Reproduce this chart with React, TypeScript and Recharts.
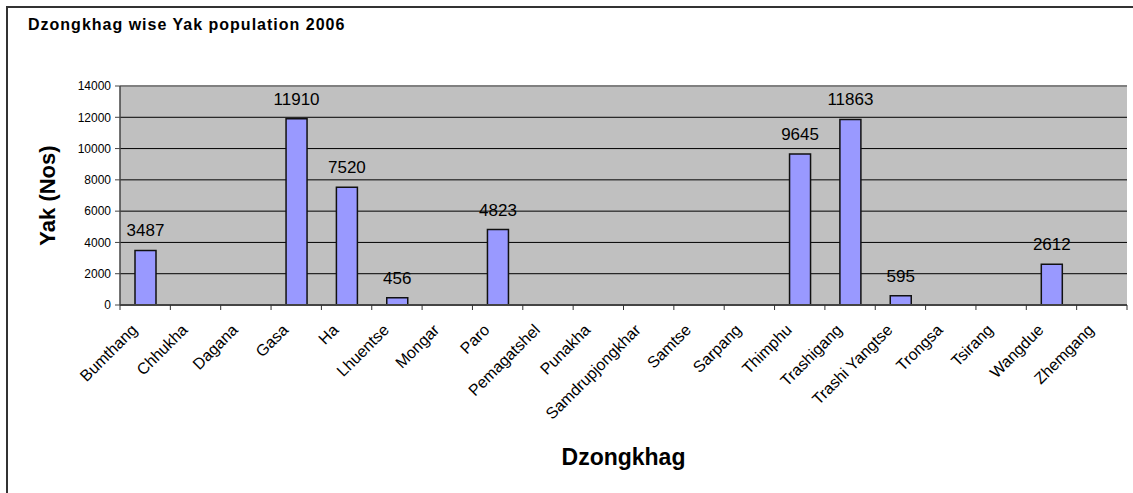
import React from "react";
import { BarChart, Bar, XAxis, YAxis, CartesianGrid, ReferenceLine, LabelList } from "recharts";

// Dzongkhag wise Yak population 2006 — column chart, Excel style

const dzongkhags = [
  "Bumthang", "Chhukha", "Dagana", "Gasa", "Ha", "Lhuentse", "Mongar", "Paro",
  "Pemagatshel", "Punakha", "Samdrupjongkhar", "Samtse", "Sarpang", "Thimphu",
  "Trashigang", "Trashi Yangtse", "Trongsa", "Tsirang", "Wangdue", "Zhemgang",
];

const yakCounts: (number | null)[] = [
  3487, null, null, 11910, 7520, 456, null, 4823,
  null, null, null, null, null, 9645,
  11863, 595, 0, null, 2612, null,
];

const yTicks = [0, 2000, 4000, 6000, 8000, 10000, 12000, 14000];

const data = dzongkhags.map((name, i) => ({ name, yaks: yakCounts[i] }));

const FONT = "'Liberation Sans', Arial, sans-serif";
const WIDTH = 1133;
const HEIGHT = 493;
const MARGIN = { top: 86, right: 6, bottom: 0, left: 0 };
const Y_AXIS_W = 120;
const X_AXIS_H = 188;
const BAND = (WIDTH - MARGIN.left - MARGIN.right - Y_AXIS_W) / dzongkhags.length;

function XTick(props: any) {
  const { x, y, payload, index } = props;
  const left = x - BAND / 2;
  const tx = x - 7;
  const ty = y + 26;
  return (
    <g>
      <line x1={left} x2={left} y1={y} y2={y + 5} stroke="#333" />
      {index === dzongkhags.length - 1 && (
        <line x1={left + BAND} x2={left + BAND} y1={y} y2={y + 5} stroke="#333" />
      )}
      <text
        x={tx}
        y={ty}
        textAnchor="end"
        fontSize={16}
        fontFamily={FONT}
        fill="#000"
        transform={`rotate(-45 ${tx} ${ty})`}
      >
        {payload.value}
      </text>
    </g>
  );
}

function ValueLabel(props: any) {
  const { x, y, width, value } = props;
  if (value === null || value === undefined) return null;
  return (
    <text x={x + width / 2} y={y - 14} textAnchor="middle" fontSize={17} fontFamily={FONT} fill="#000">
      {value}
    </text>
  );
}

export default function App() {
  return (
    <div style={{ position: "fixed", left: 0, top: 0, width: WIDTH, height: HEIGHT, overflow: "hidden", background: "#fff" }}>
      <div style={{ position: "absolute", left: 0, top: 0 }}>
        <BarChart width={WIDTH} height={HEIGHT} data={data} margin={MARGIN} barSize={21}>
          <CartesianGrid vertical={false} fill="#C0C0C0" stroke="#000" fillOpacity={1} />
          <XAxis
            dataKey="name"
            interval={0}
            height={X_AXIS_H}
            tickLine={false}
            tickSize={0}
            tickMargin={0}
            axisLine={{ stroke: "#444", strokeWidth: 2 }}
            tick={<XTick />}
            label={(p: any) => {
              const vb = p.viewBox;
              return (
                <text
                  x={vb.x + vb.width / 2}
                  y={465}
                  textAnchor="middle"
                  fontSize={23}
                  fontWeight="bold"
                  fontFamily={FONT}
                  fill="#000"
                >
                  Dzongkhag
                </text>
              );
            }}
          />
          <YAxis
            width={Y_AXIS_W}
            domain={[0, 14000]}
            ticks={yTicks}
            interval={0}
            tickSize={5}
            tickMargin={4}
            axisLine={{ stroke: "#444", strokeWidth: 1.5 }}
            tickLine={{ stroke: "#444" }}
            tick={{ fontSize: 12, fontFamily: FONT, fill: "#000" }}
            label={(p: any) => {
              const vb = p.viewBox;
              const cx = 55;
              const cy = vb.y + vb.height / 2;
              return (
                <text
                  x={cx}
                  y={cy}
                  textAnchor="middle"
                  fontSize={22}
                  fontWeight="bold"
                  fontFamily={FONT}
                  fill="#000"
                  transform={`rotate(-90 ${cx} ${cy})`}
                >
                  Yak (Nos)
                </text>
              );
            }}
          />
          <YAxis
            yAxisId="frame"
            orientation="right"
            width={0}
            domain={[0, 14000]}
            tick={false}
            tickLine={false}
            axisLine={{ stroke: "#808080", strokeWidth: 2 }}
          />
          <ReferenceLine y={14000} stroke="#808080" strokeWidth={2} />
          <Bar dataKey="yaks" fill="#9999FF" stroke="#111" strokeWidth={1.5} isAnimationActive={false}>
            <LabelList dataKey="yaks" content={<ValueLabel />} />
          </Bar>
        </BarChart>
      </div>
      {/* outer chart frame, runs off the right and bottom edges */}
      <div
        style={{
          position: "absolute",
          left: 6,
          top: 6,
          width: 1300,
          height: 700,
          borderLeft: "2px solid #333",
          borderTop: "2px solid #333",
          pointerEvents: "none",
        }}
      />
      <div
        style={{
          position: "absolute",
          left: 28,
          top: 16,
          fontFamily: FONT,
          fontWeight: "bold",
          fontSize: 16,
          letterSpacing: 1,
          color: "#000",
          whiteSpace: "nowrap",
        }}
      >
        Dzongkhag wise Yak population 2006
      </div>
    </div>
  );
}
